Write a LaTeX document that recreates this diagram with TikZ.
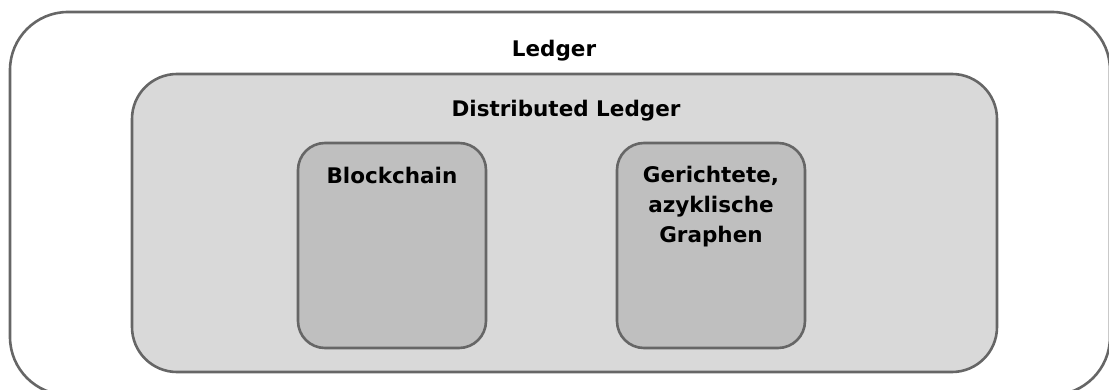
\documentclass[tikz,border=0pt]{standalone}
\usepackage{fontspec}
\setmainfont{DejaVu Sans}

\begin{document}
\begin{tikzpicture}[x=1pt, y=-1pt,
  frame/.style={draw=black!60, line width=2.6pt, inner sep=0pt},
  lbl/.style={font=\bfseries\fontsize{21.5}{30}\selectfont, align=center, inner sep=0pt}]
\clip (0,0) rectangle (1109,390);
\useasboundingbox (0,0) rectangle (1109,390);
% boxes
\node[frame, fill=white, rounded corners=58pt, minimum width=1100pt, minimum height=383pt] (ledgerbox) at (560,203.5) {};
\node[frame, fill=black!15, rounded corners=45pt, minimum width=865pt, minimum height=298pt] (dltbox) at (564.5,223) {};
\node[frame, fill=black!25, rounded corners=27pt, minimum width=188pt, minimum height=205pt] (chainbox) at (392,245.5) {};
\node[frame, fill=black!25, rounded corners=27pt, minimum width=188pt, minimum height=205pt] (dagbox) at (711,245.5) {};
% labels
\node[lbl] (ledger) at (554,51) {Ledger};
\node[lbl] (dlt) at (566,111) {Distributed Ledger};
\node[lbl] (chain) at (392,175) {Blockchain};
\node[lbl] (dag) at (711,207) {Gerichtete,\\azyklische\\Graphen};
\end{tikzpicture}
\end{document}
